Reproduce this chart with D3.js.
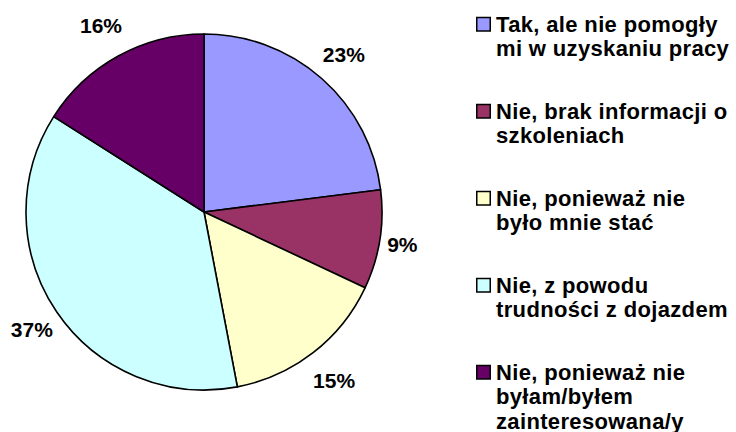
<!DOCTYPE html>
<html>
<head>
<meta charset="utf-8">
<script src="https://cdn.jsdelivr.net/npm/d3@7"></script>
<style>
  html, body { margin: 0; padding: 0; background: #fff; }
  svg { display: block; font-family: "Liberation Sans", Arial, sans-serif; }
</style>
</head>
<body>
<svg id="chart" width="736" height="432"></svg>
<script>
// Survey answers: categories, their shares (percent) and slice colours
const categories = [
  ["Tak, ale nie pomogły", "mi w uzyskaniu pracy"],
  ["Nie, brak informacji o", "szkoleniach"],
  ["Nie, ponieważ nie", "było mnie stać"],
  ["Nie, z powodu", "trudności z dojazdem"],
  ["Nie, ponieważ nie", "byłam/byłem", "zainteresowana/y"]
];
const values = [23, 9, 15, 37, 16];
const colors = ["#9999FF", "#993366", "#FFFFCC", "#CCFFFF", "#660066"];

const svg = d3.select("#chart");
const cx = 204, cy = 212, radius = 178;

const pie = d3.pie().sort(null).value(d => d);
const arcs = pie(values);
const arc = d3.arc().innerRadius(0).outerRadius(radius);

const g = svg.append("g").attr("transform", `translate(${cx},${cy})`);

g.selectAll("path.slice")
  .data(arcs)
  .join("path")
  .attr("class", "slice")
  .attr("d", arc)
  .attr("fill", (d, i) => colors[i])
  .attr("stroke", "#000")
  .attr("stroke-width", 1.6)
  .attr("stroke-linejoin", "round");

// Percentage labels outside the rim, a little further out above and below
g.selectAll("text.pct")
  .data(arcs)
  .join("text")
  .attr("class", "pct")
  .attr("text-anchor", "middle")
  .attr("dominant-baseline", "central")
  .attr("font-size", 21)
  .attr("font-weight", "bold")
  .attr("fill", "#000")
  .text(d => d.value + "%")
  .each(function (d) {
    const a = (d.startAngle + d.endAngle) / 2;
    const sx = Math.sin(a), sy = -Math.cos(a);
    const r = radius + 20 + 18 * Math.abs(sy);
    d3.select(this).attr("x", sx * r).attr("y", sy * r + 1);
  });

// Legend
const legend = svg.append("g").attr("transform", "translate(476,0)");
const itemStep = 87, lineStep = 24.5, firstBaseline = 31.5;

const items = legend.selectAll("g.item")
  .data(categories)
  .join("g")
  .attr("class", "item")
  .attr("transform", (d, i) => `translate(0,${firstBaseline + i * itemStep})`);

items.append("rect")
  .attr("x", 0.75)
  .attr("y", -14)
  .attr("width", 13.5)
  .attr("height", 13.5)
  .attr("fill", (d, i) => colors[i])
  .attr("stroke", "#000")
  .attr("stroke-width", 1.5);

items.append("text")
  .attr("font-size", 22)
  .attr("font-weight", "bold")
  .attr("letter-spacing", 0.35)
  .attr("fill", "#000")
  .selectAll("tspan")
  .data(d => d)
  .join("tspan")
  .attr("x", 20)
  .attr("y", (d, j) => j * lineStep)
  .text(d => d);
</script>
</body>
</html>
